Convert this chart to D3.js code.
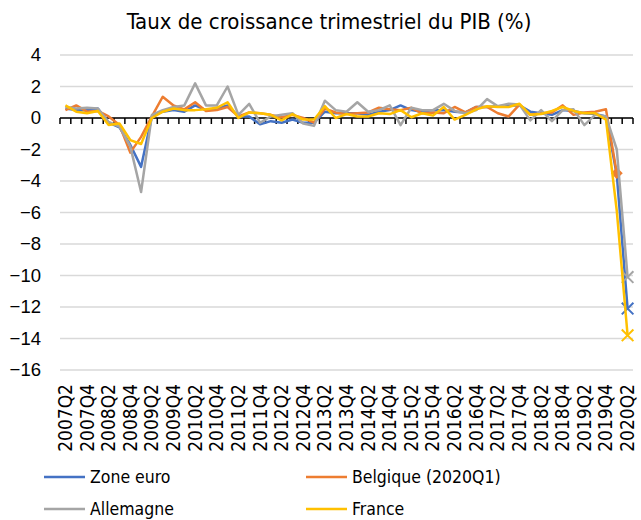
<!DOCTYPE html>
<html>
<head>
<meta charset="utf-8">
<script src="https://cdn.jsdelivr.net/npm/d3@7"></script>
<style>
  body { margin: 0; background: #fff; }
  svg { font-family: "DejaVu Sans Condensed", "DejaVu Sans", sans-serif; }
</style>
</head>
<body>
<div id="chart"></div>
<script>
// quarters shown on the x axis
const quarters = [
  '2007Q2','2007Q3','2007Q4','2008Q1','2008Q2','2008Q3','2008Q4','2009Q1','2009Q2','2009Q3','2009Q4',
  '2010Q1','2010Q2','2010Q3','2010Q4','2011Q1','2011Q2','2011Q3','2011Q4','2012Q1','2012Q2','2012Q3','2012Q4',
  '2013Q1','2013Q2','2013Q3','2013Q4','2014Q1','2014Q2','2014Q3','2014Q4','2015Q1','2015Q2','2015Q3','2015Q4',
  '2016Q1','2016Q2','2016Q3','2016Q4','2017Q1','2017Q2','2017Q3','2017Q4','2018Q1','2018Q2','2018Q3','2018Q4',
  '2019Q1','2019Q2','2019Q3','2019Q4','2020Q1','2020Q2'
];

// quarterly growth, %
const zoneEuro = [0.6,0.5,0.5,0.6,-0.3,-0.6,-1.7,-3.1,0.1,0.4,0.5,0.4,0.8,0.5,0.6,0.8,0.1,0.1,-0.4,-0.2,-0.3,-0.1,-0.3,-0.3,
  0.4,0.3,0.3,0.3,0.2,0.4,0.5,0.8,0.5,0.4,0.5,0.5,0.4,0.35,0.7,0.7,0.75,0.8,0.8,0.4,0.3,0.2,0.5,0.45,0.3,0.25,0.1,-3.6,-12.1];
const belgique = [0.5,0.8,0.4,0.45,0.1,-0.45,-2.2,-1.2,0.1,1.35,0.8,0.55,1.0,0.45,0.5,0.7,0.1,0.35,0.3,0.2,0.05,0.2,0.0,-0.3,
  0.6,0.35,0.25,0.3,0.35,0.65,0.55,0.5,0.65,0.3,0.35,0.3,0.7,0.35,0.7,0.7,0.3,0.1,0.85,0.2,0.3,0.35,0.8,0.2,0.35,0.4,0.55,-3.5,null];
const allemagne = [0.7,0.6,0.65,0.6,-0.25,-0.55,-1.8,-4.7,0.2,0.5,0.7,0.8,2.2,0.8,0.8,2.0,0.2,0.9,-0.3,0.1,0.2,0.3,-0.35,-0.5,
  1.1,0.5,0.4,1.0,0.4,0.5,0.8,-0.45,0.65,0.5,0.5,0.9,0.45,0.3,0.5,1.2,0.75,0.9,0.85,-0.15,0.5,-0.2,0.5,0.55,-0.45,0.2,0.1,-2.0,-10.1];
const france = [0.8,0.4,0.3,0.45,-0.45,-0.35,-1.4,-1.65,0.0,0.4,0.6,0.5,0.5,0.55,0.65,1.0,0.0,0.35,0.3,0.2,-0.15,0.25,-0.1,-0.1,
  0.75,0.0,0.25,0.1,0.1,0.3,0.25,0.5,0.05,0.3,0.15,0.7,-0.1,0.2,0.55,0.75,0.7,0.7,0.9,0.2,0.25,0.45,0.7,0.45,0.3,0.3,-0.1,-5.9,-13.8];

const yTicks = [4, 2, 0, -2, -4, -6, -8, -10, -12, -14, -16];

const series = [
  { name: 'Zone euro', values: zoneEuro, color: '#4472C4', marker: 'x' },
  { name: 'Belgique (2020Q1)', values: belgique, color: '#ED7D31', marker: 'diamond' },
  { name: 'Allemagne', values: allemagne, color: '#A5A5A5', marker: 'x' },
  { name: 'France', values: france, color: '#FFC000', marker: 'x' }
];

const [width, height] = [641, 520];
const margin = { left: 60, right: 8, top: 55, bottom: 150 };

const svg = d3.select('#chart').append('svg')
  .attr('width', width)
  .attr('height', height);

const x = d3.scaleBand()
  .domain(quarters)
  .range([margin.left, width - margin.right]);
const y = d3.scaleLinear()
  .domain([-16, 4])
  .range([height - margin.bottom, margin.top]);

// title
svg.append('text')
  .attr('x', 329).attr('y', 29)
  .attr('text-anchor', 'middle')
  .attr('font-size', 22)
  .attr('fill', '#000')
  .text('Taux de croissance trimestriel du PIB (%)');

// gridlines
svg.append('g')
  .selectAll('line')
  .data(yTicks)
  .join('line')
  .attr('x1', margin.left).attr('x2', width - margin.right)
  .attr('y1', d => y(d)).attr('y2', d => y(d))
  .attr('stroke', '#d9d9d9').attr('stroke-width', 1.3);

// y labels
const yAxis = svg.append('g')
  .attr('transform', `translate(${margin.left - 19},0)`)
  .call(d3.axisLeft(y).tickValues(yTicks).tickSize(0).tickPadding(0));
yAxis.select('.domain').remove();
yAxis.selectAll('text').attr('font-size', 18.5).attr('fill', '#000').attr('font-family', null);

// zero axis with ticks between categories
const zeroAxis = svg.append('g').attr('transform', `translate(0,${y(0)})`);
zeroAxis.append('line')
  .attr('x1', margin.left).attr('x2', width - margin.right)
  .attr('stroke', '#000').attr('stroke-width', 1.5);
zeroAxis.selectAll('line.tick')
  .data(d3.range(quarters.length + 1))
  .join('line')
  .attr('class', 'tick')
  .attr('x1', i => margin.left + i * x.step())
  .attr('x2', i => margin.left + i * x.step())
  .attr('y1', 0).attr('y2', 6)
  .attr('stroke', '#000').attr('stroke-width', 1.5);

// x labels, every second quarter, rotated
svg.append('g')
  .selectAll('text')
  .data(quarters.filter((q, i) => i % 2 === 0))
  .join('text')
  .attr('transform', d => `translate(${x(d) + x.bandwidth() / 2 + 6.5},${y(-16) + 14}) rotate(-90)`)
  .attr('text-anchor', 'end')
  .attr('font-size', 19)
  .attr('fill', '#000')
  .text(d => d);

// lines
const line = d3.line()
  .defined(d => d.v !== null)
  .x(d => x(d.q) + x.bandwidth() / 2)
  .y(d => y(d.v));

series.forEach(s => {
  const pts = quarters.map((q, i) => ({ q, v: s.values[i] }));
  svg.append('path')
    .datum(pts)
    .attr('d', line)
    .attr('fill', 'none')
    .attr('stroke', s.color)
    .attr('stroke-width', 2.5)
    .attr('stroke-linejoin', 'round');

  // marker on the last available point
  const last = pts.filter(d => d.v !== null).pop();
  const cx = x(last.q) + x.bandwidth() / 2, cy = y(last.v);
  if (s.marker === 'diamond') {
    svg.append('path')
      .attr('d', d3.symbol(d3.symbolDiamond2, 90)())
      .attr('transform', `translate(${cx},${cy})`)
      .attr('fill', s.color);
  } else {
    svg.append('path')
      .attr('d', d3.symbol(d3.symbolTimes, 90)())
      .attr('transform', `translate(${cx},${cy})`)
      .attr('fill', 'none')
      .attr('stroke', s.color)
      .attr('stroke-width', 2);
  }
});

// legend
const legend = svg.append('g')
  .selectAll('g')
  .data(series)
  .join('g')
  .attr('transform', (d, i) => `translate(${i % 2 === 0 ? 44 : 306},${i < 2 ? 477 : 509})`);
legend.append('line')
  .attr('x1', 0).attr('x2', 41)
  .attr('stroke', d => d.color).attr('stroke-width', 2.5);
legend.append('text')
  .attr('x', 46).attr('dy', '0.35em')
  .attr('font-size', 17.5)
  .attr('fill', '#000')
  .text(d => d.name);
</script>
</body>
</html>
